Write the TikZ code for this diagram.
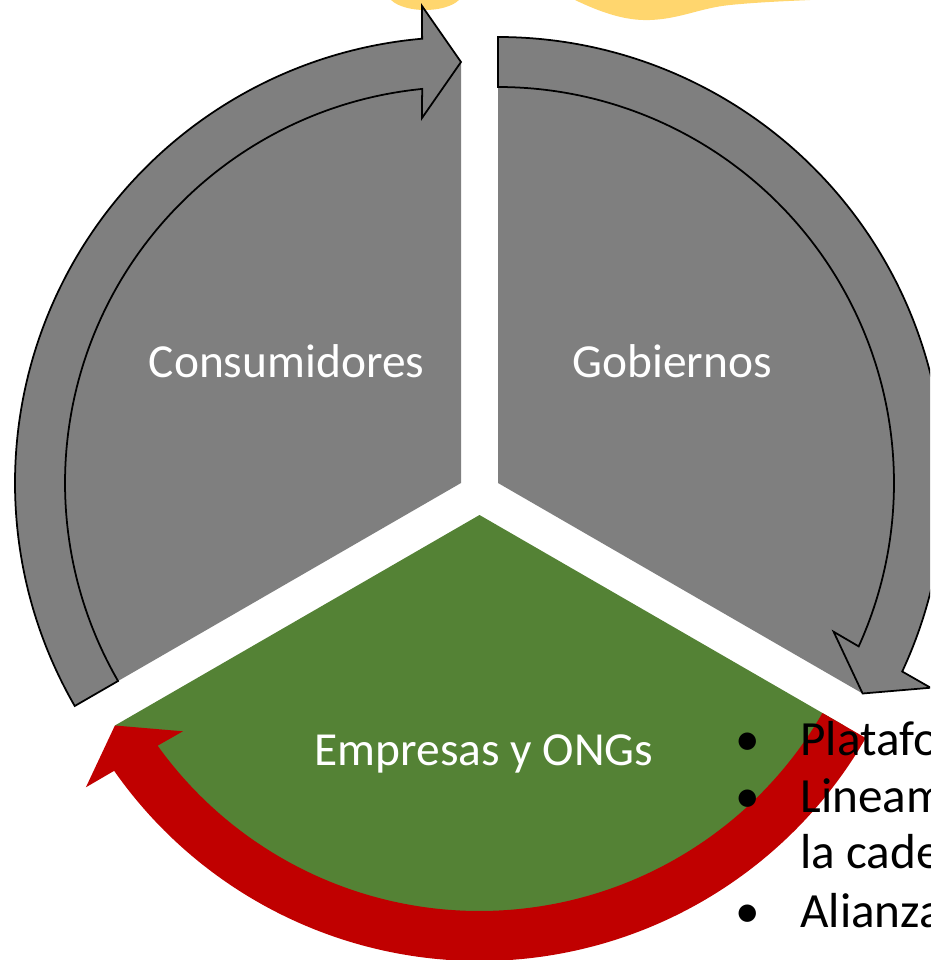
\documentclass[tikz,border=0pt]{standalone}
\usepackage{fontspec}
\setmainfont{Carlito}
\usetikzlibrary{calc}
\definecolor{cyclegray}{RGB}{127,127,127}
\definecolor{cyclegreen}{RGB}{84,130,53}
\definecolor{cyclered}{RGB}{192,0,0}
\definecolor{cloudyellow}{RGB}{255,214,110}

\begin{document}
\begin{tikzpicture}[
        x=0.02cm, y=0.02cm,
        font=\fontsize{27}{32}\selectfont
    ]
    \tikzset{
        sectorg/.style = {fill=cyclegray},
        sectorgr/.style = {fill=cyclegreen},
        arrowg/.style = {fill=cyclegray, draw=black, line width=1pt, line join=miter},
        arrowr/.style = {fill=cyclered},
        mylabel/.style = {text=white, anchor=base, inner sep=0pt},
        mydot/.style = {anchor=base, inner sep=0pt, font=\fontsize{28}{34}\selectfont},
        myitem/.style = {anchor=base west, inner sep=0pt, font=\fontsize{28}{34}\selectfont},
    }
        \clip (0,0) rectangle (930,-960);
        %
        \coordinate (cl) at (461,-483);
        \coordinate (cr) at (498,-483);
        \coordinate (cb) at (479.5,-515);
        %
        \fill[cloudyellow] (425,8) ellipse [x radius=38, y radius=18];
        \fill[cloudyellow] (575,0) .. controls (600,-12) and (625,-21) .. (650,-20)
            .. controls (680,-19) and (700,-8) .. (730,-5)
            .. controls (760,-2) and (790,-1) .. (810,0) -- cycle;
        %
        \fill[sectorg] (cl) -- ($(cl)+(90:421)$) arc[start angle=90, end angle=210, radius=421] -- cycle;
        \fill[sectorg] (cr) -- ($(cr)+(-30:421)$) arc[start angle=-30, end angle=90, radius=421] -- cycle;
        \fill[sectorgr] (cb) -- ($(cb)+(210:421)$) arc[start angle=210, end angle=330, radius=421] -- cycle;
        %
        \draw[arrowg] ($(cl)+(210:446)$) arc[start angle=210, end angle=95, radius=446]
            -- ($(cl)+(90:477)+(180:39)$) -- ($(cl)+(90:421)$) -- ($(cl)+(90:365)+(180:39)$)
            -- ($(cl)+(95.63:396)$) arc[start angle=95.63, end angle=210, radius=396] -- cycle;
        \draw[arrowg] ($(cr)+(90:446)$) arc[start angle=90, end angle=-25, radius=446]
            -- ($(cr)+(-30:477)+(60:39)$) -- ($(cr)+(-30:421)$) -- ($(cr)+(-30:365)+(60:39)$)
            -- ($(cr)+(-24.37:396)$) arc[start angle=-24.37, end angle=90, radius=396] -- cycle;
        \fill[arrowr] ($(cb)+(330:446)$) arc[start angle=330, end angle=215, radius=446]
            -- ($(cb)+(210:477)+(300:39)$) -- ($(cb)+(210:421)$) -- ($(cb)+(210:365)+(300:39)$)
            -- ($(cb)+(215.63:396)$) arc[start angle=215.63, end angle=330, radius=396] -- cycle;
        %
        \node[mylabel] (cons) at (286.5,-377) {Consumidores};
        \node[mylabel] (gob) at (672,-377) {Gobiernos};
        \node[mylabel] (emp) at (484,-765) {Empresas y ONGs};
        %
        \node[mydot] (d1) at (748,-755) {•};
        \node[myitem] (t1) at (800,-755) {Platafo};
        \node[mydot] (d2) at (748,-812) {•};
        \node[myitem] (t2) at (800,-812) {Lineam};
        \node[myitem] (t3) at (800,-868) {la cade};
        \node[mydot] (d3) at (748,-927) {•};
        \node[myitem] (t4) at (800,-927) {Alianza};
\end{tikzpicture}
\end{document}
